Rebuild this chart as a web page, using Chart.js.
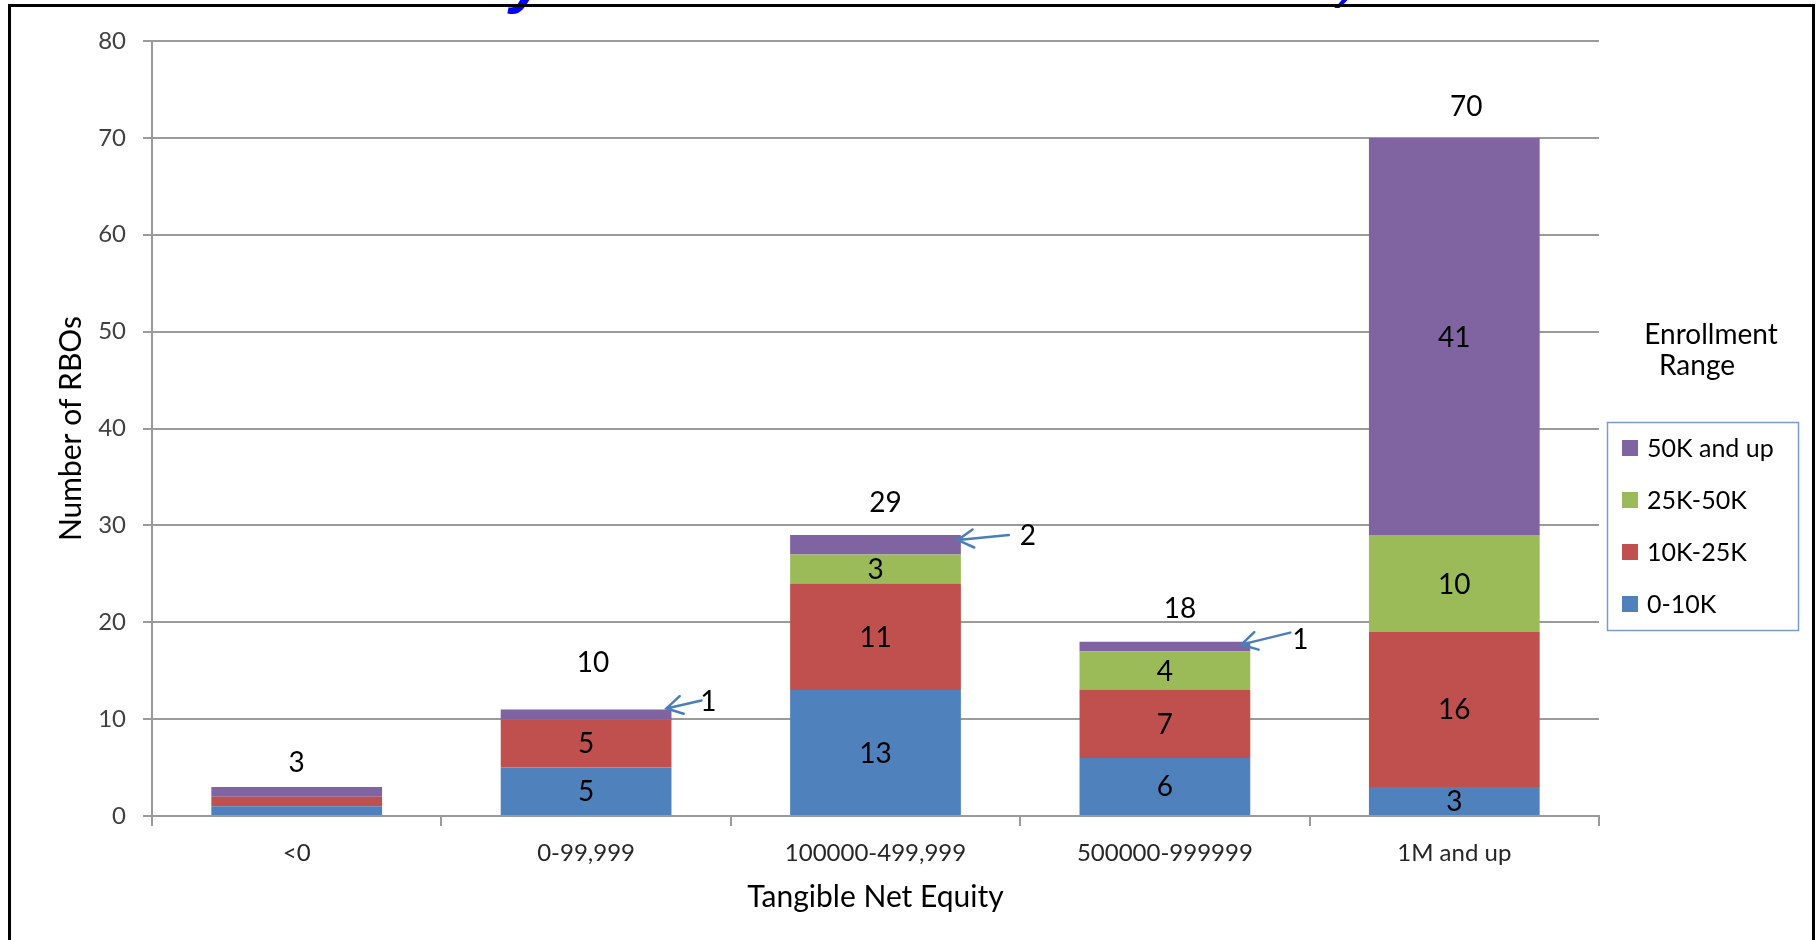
<!DOCTYPE html>
<html>
<head>
<meta charset="utf-8">
<title>RBOs by Tangible Net Equity</title>
<script src="https://cdn.jsdelivr.net/npm/chart.js@4.4.0/dist/chart.umd.min.js"></script>
<style>
    html, body { margin: 0; padding: 0; background: #fff; }
    #wrap { width: 1820px; height: 940px; }
</style>
</head>
<body>
<div id="wrap"><canvas id="rboChart" width="1820" height="940"></canvas></div>
<script>
// Tangible net equity buckets (x axis)
const categories = ["<0", "0-99,999", "100000-499,999", "500000-999999", "1M and up"];

// Number of RBOs per enrollment range, one value per bucket
const enroll0to10k = [1, 5, 13, 6, 3];
const enroll10to25k = [1, 5, 11, 7, 16];
const enroll25to50k = [0, 0, 3, 4, 10];
const enroll50kUp = [1, 1, 2, 1, 41];

// Totals written above each column
const totalLabels = ["3", "10", "29", "18", "70"];

// Y axis
const yMin = 0;
const yMax = 80;
const yStep = 10;

const FONT = "Lato, 'Open Sans', sans-serif";
const GRID = "#9a9a9a";

const colors = {
    blue: "#4F81BD",
    red: "#C0504D",
    green: "#9BBB59",
    purple: "#8064A2"
};

// Small values that get a callout arrow instead of an inside label
// (offsets in px from the top-right corner of the segment)
const callouts = [
    { ds: 3, idx: 1, tip: [-5, -1], tail: [30, -9], text: [37, -7] },
    { ds: 3, idx: 2, tip: [-3, 5], tail: [48, 0], text: [67, 1] },
    { ds: 3, idx: 3, tip: [-9, 3], tail: [40, -9], text: [50, -2] }
];

// Offsets of the total labels above each column: [dx, gap]
const totalOffsets = [[0, 24], [7, 46], [10, 32], [15, 33], [12, 31]];

function drawArrow(ctx, x1, y1, x2, y2) {
    // line from (x1,y1) to the tip (x2,y2) with an open head
    const ang = Math.atan2(y1 - y2, x1 - x2);
    const len = 18, spread = Math.PI / 6;
    ctx.beginPath();
    ctx.moveTo(x1, y1);
    ctx.lineTo(x2, y2);
    ctx.moveTo(x2 + len * Math.cos(ang - spread), y2 + len * Math.sin(ang - spread));
    ctx.lineTo(x2, y2);
    ctx.lineTo(x2 + len * Math.cos(ang + spread), y2 + len * Math.sin(ang + spread));
    ctx.stroke();
}

const extrasPlugin = {
    id: "extras",
    beforeDraw(chart) {
        const ctx = chart.ctx;
        ctx.save();
        ctx.fillStyle = "#fff";
        ctx.fillRect(0, 0, chart.width, chart.height);
        ctx.restore();
    },
    afterDatasetsDraw(chart) {
        const ctx = chart.ctx;
        ctx.save();
        ctx.textAlign = "center";
        ctx.textBaseline = "middle";
        ctx.fillStyle = "#000";
        ctx.font = "28px " + FONT;

        // values inside the segments
        chart.data.datasets.forEach((ds, i) => {
            const meta = chart.getDatasetMeta(i);
            ds.data.forEach((v, j) => {
                if (v < 3) return;
                const el = meta.data[j];
                ctx.fillText(String(v), el.x, (el.y + el.base) / 2 + 1);
            });
        });

        // column totals
        const topMeta = chart.getDatasetMeta(chart.data.datasets.length - 1);
        totalLabels.forEach((t, j) => {
            const el = topMeta.data[j];
            const [dx, gap] = totalOffsets[j];
            ctx.fillText(t, el.x + dx, el.y - gap);
        });

        // callouts for the thin segments
        ctx.strokeStyle = "#4A7EBB";
        ctx.lineWidth = 2.5;
        ctx.lineCap = "round";
        callouts.forEach(c => {
            const el = chart.getDatasetMeta(c.ds).data[c.idx];
            const rx = el.x + el.width / 2;
            const ty = el.y;
            drawArrow(ctx, rx + c.tail[0], ty + c.tail[1], rx + c.tip[0], ty + c.tip[1]);
            ctx.fillText(String(chart.data.datasets[c.ds].data[c.idx]), rx + c.text[0], ty + c.text[1]);
        });
        ctx.restore();
    },
    afterDraw(chart) {
        const ctx = chart.ctx;
        ctx.save();

        // title lettering cut off by the slide edge
        ctx.fillStyle = "#0000FF";
        ctx.textBaseline = "alphabetic";
        ctx.textAlign = "left";
        ctx.font = "italic bold 64px 'Liberation Sans', sans-serif";
        ctx.fillText("y", 510, 1);
        ctx.font = "italic 60px 'Liberation Sans', sans-serif";
        ctx.fillText(")", 1340, -4);

        // slide frame
        ctx.strokeStyle = "#000";
        ctx.lineWidth = 3;
        ctx.beginPath();
        ctx.moveTo(9.5, 945);
        ctx.lineTo(9.5, 5.5);
        ctx.lineTo(1813.5, 5.5);
        ctx.lineTo(1813.5, 945);
        ctx.stroke();

        // legend title
        ctx.fillStyle = "#000";
        ctx.textAlign = "center";
        ctx.textBaseline = "middle";
        ctx.font = "28px " + FONT;
        ctx.fillText("Enrollment", 1711, 335);
        ctx.fillText("Range", 1697, 366);

        // legend box, top item is the top stack
        ctx.strokeStyle = "#7A9CCB";
        ctx.lineWidth = 1.5;
        ctx.strokeRect(1607.5, 422.5, 191, 208);
        ctx.font = "25px " + FONT;
        ctx.textAlign = "left";
        const items = chart.data.datasets.slice().reverse();
        items.forEach((ds, k) => {
            const cy = 448 + k * 52;
            ctx.fillStyle = ds.backgroundColor;
            ctx.fillRect(1622, cy - 8, 16, 16);
            ctx.fillStyle = "#000";
            ctx.fillText(ds.label, 1647, cy + 1);
        });
        ctx.restore();
    }
};

new Chart(document.getElementById("rboChart"), {
    type: "bar",
    data: {
        labels: categories,
        datasets: [
            { label: "0-10K", data: enroll0to10k, backgroundColor: colors.blue },
            { label: "10K-25K", data: enroll10to25k, backgroundColor: colors.red },
            { label: "25K-50K", data: enroll25to50k, backgroundColor: colors.green },
            { label: "50K and up", data: enroll50kUp, backgroundColor: colors.purple }
        ]
    },
    options: {
        responsive: false,
        devicePixelRatio: 1,
        animation: false,
        layout: { padding: { top: 41, right: 221, bottom: 0, left: 0 } },
        datasets: {
            bar: { categoryPercentage: 1, barPercentage: 0.59, borderWidth: 0 }
        },
        plugins: {
            legend: { display: false },
            tooltip: { enabled: false }
        },
        scales: {
            x: {
                stacked: true,
                afterFit: s => { s.height = 124; },
                grid: {
                    offset: true,
                    drawOnChartArea: false,
                    drawTicks: true,
                    tickLength: 10,
                    color: GRID,
                    lineWidth: 2
                },
                border: { display: true, color: GRID, width: 2 },
                ticks: {
                    padding: 13,
                    color: "#262626",
                    font: { family: FONT, size: 24 }
                },
                title: {
                    display: true,
                    text: "Tangible Net Equity",
                    color: "#000",
                    font: { family: FONT, size: 30 },
                    padding: { top: 0, bottom: 25 }
                }
            },
            y: {
                stacked: true,
                min: yMin,
                max: yMax,
                afterFit: s => { s.width = 152; },
                grid: {
                    color: GRID,
                    lineWidth: 2,
                    drawTicks: true,
                    tickLength: 9
                },
                border: { display: true, color: GRID, width: 2 },
                ticks: {
                    stepSize: yStep,
                    padding: 17,
                    color: "#404040",
                    font: { family: FONT, size: 24 }
                },
                title: {
                    display: true,
                    text: "Number of RBOs",
                    color: "#000",
                    font: { family: FONT, size: 30 },
                    padding: { top: 53, bottom: 0 }
                }
            }
        }
    },
    plugins: [extrasPlugin]
});
</script>
</body>
</html>
